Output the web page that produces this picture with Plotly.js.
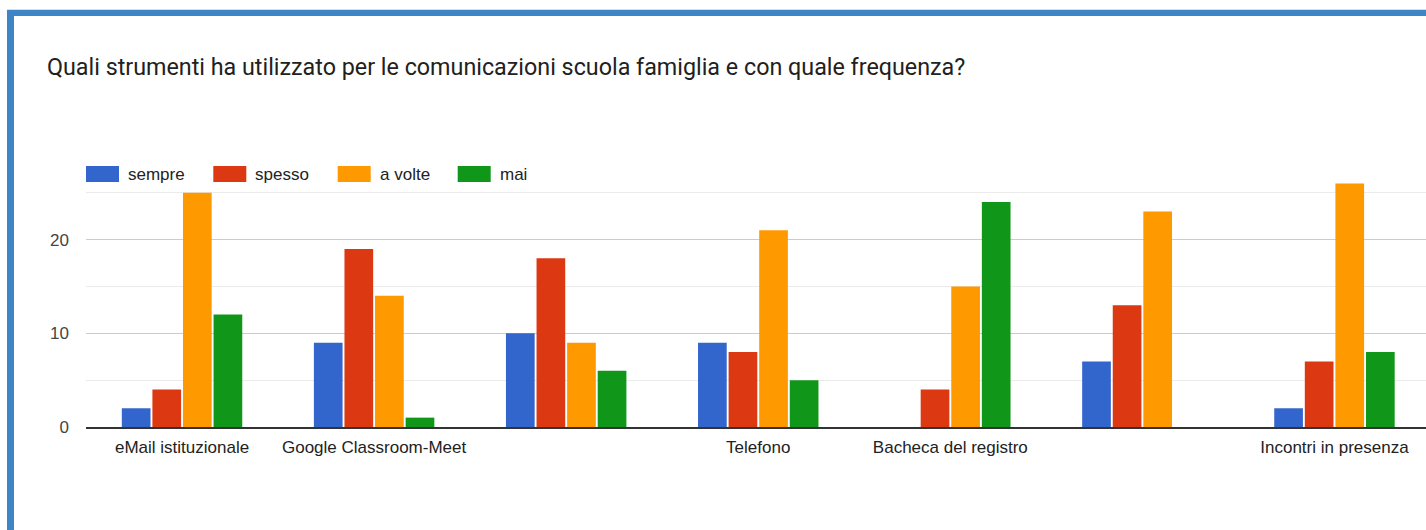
<!DOCTYPE html>
<html>
<head>
<meta charset="utf-8">
<script src="https://cdn.plot.ly/plotly-3.0.1.min.js"></script>
<style>
  html, body { margin: 0; padding: 0; background: #ffffff; }
  #wrap { position: relative; width: 1426px; height: 530px; overflow: hidden; }
  #chart { position: absolute; left: 0; top: 0; width: 1426px; height: 530px; }
  #frame { position: absolute; left: 7px; top: 10px; width: 1500px; height: 600px;
           border-left: 7px solid #3d85c6; border-top: 6px solid #3d85c6; pointer-events: none; }
  #edge { position: absolute; left: 7px; top: 9px; width: 1500px; height: 1px; background: #dcdcdc; }
</style>
</head>
<body>
<div id="wrap">
  <div id="chart"></div>
  <div id="edge"></div>
  <div id="frame"></div>
</div>
<script>
// ---- data ----
const categories = ['eMail istituzionale', 'Google Classroom-Meet', '', 'Telefono', 'Bacheca del registro', '', 'Incontri in presenza'];
const seriesNames = ['sempre', 'spesso', 'a volte', 'mai'];
const sempre  = [2, 9, 10, 9, 0, 7, 2];
const spesso  = [4, 19, 18, 8, 4, 13, 7];
const aVolte  = [25, 14, 9, 21, 15, 23, 26];
const mai     = [12, 1, 6, 5, 24, 0, 8];
const yTicks  = [0, 10, 20];
const titleText = 'Quali strumenti ha utilizzato per le comunicazioni scuola famiglia e con quale frequenza?';

// ---- styling ----
const colors = ['#3366cc', '#dc3912', '#ff9900', '#109618'];
const values = [sempre, spesso, aVolte, mai];
const xIdx = categories.map((_, i) => i);

const W = 1426, H = 530;
const plotL = 86, plotR = 1426, plotT = 180, plotB = 427;
const px2paperX = px => (px - plotL) / (plotR - plotL);
const px2paperY = py => (plotB - py) / (plotB - plotT);

const traces = seriesNames.map((name, s) => ({
  type: 'bar',
  name: name,
  x: xIdx,
  y: values[s],
  marker: { color: colors[s], line: { width: 0 } },
  hoverinfo: 'x+y+name',
  showlegend: false
}));

// custom legend (Google-Charts style wide swatches)
const legendStartX = [86, 213.3, 337.7, 457.7];
const swatchW = 33, swatchTop = 166, swatchBot = 182;
const shapes = [];
const annotations = [];
seriesNames.forEach((name, s) => {
  shapes.push({
    type: 'rect', xref: 'paper', yref: 'paper',
    x0: px2paperX(legendStartX[s]), x1: px2paperX(legendStartX[s] + swatchW),
    y0: px2paperY(swatchBot), y1: px2paperY(swatchTop),
    fillcolor: colors[s], line: { width: 0 }
  });
  annotations.push({
    xref: 'paper', yref: 'paper',
    x: px2paperX(legendStartX[s] + swatchW + 7), y: px2paperY(174),
    xanchor: 'left', yanchor: 'middle', showarrow: false,
    text: name,
    font: { family: 'Liberation Sans, Arial, sans-serif', size: 17, color: '#222222' }
  });
});

const bandPx = 192.07;
const span = (plotR - plotL) / bandPx;

const layout = {
  width: W, height: H,
  margin: { l: plotL, r: W - plotR, t: plotT, b: H - plotB, pad: 0 },
  paper_bgcolor: '#ffffff',
  plot_bgcolor: '#ffffff',
  title: {
    text: titleText,
    x: 47 / W, xanchor: 'left', xref: 'container',
    y: 1 - 67 / H, yanchor: 'middle', yref: 'container',
    font: { family: 'Roboto, Arial, sans-serif', size: 23.3, color: '#212121' }
  },
  barmode: 'group',
  bargap: 0.363,
  bargroupgap: 0.062,
  showlegend: false,
  xaxis: {
    range: [-0.5, -0.5 + span],
    tickmode: 'array',
    tickvals: xIdx,
    ticktext: categories,
    showgrid: false,
    zeroline: false,
    showline: true,
    linecolor: '#333333',
    linewidth: 1.5,
    ticks: '',
    ticklabelstandoff: 4,
    tickfont: { family: 'Liberation Sans, Arial, sans-serif', size: 17, color: '#222222' },
    fixedrange: true
  },
  yaxis: {
    range: [0, (plotB - plotT) / 9.37],
    tickmode: 'array',
    tickvals: yTicks,
    ticktext: yTicks.map(String),
    showgrid: true,
    gridcolor: '#cccccc',
    gridwidth: 1,
    minor: { dtick: 5, tick0: 0, showgrid: true, gridcolor: '#ebebeb', gridwidth: 1, ticks: '' },
    zeroline: false,
    showline: false,
    ticks: '',
    ticklabelstandoff: 16,
    tickfont: { family: 'Liberation Sans, Arial, sans-serif', size: 17, color: '#444444' },
    fixedrange: true
  },
  shapes: shapes,
  annotations: annotations,
  font: { family: 'Liberation Sans, Arial, sans-serif' }
};

Plotly.newPlot('chart', traces, layout, { displayModeBar: false, staticPlot: true });
</script>
</body>
</html>
